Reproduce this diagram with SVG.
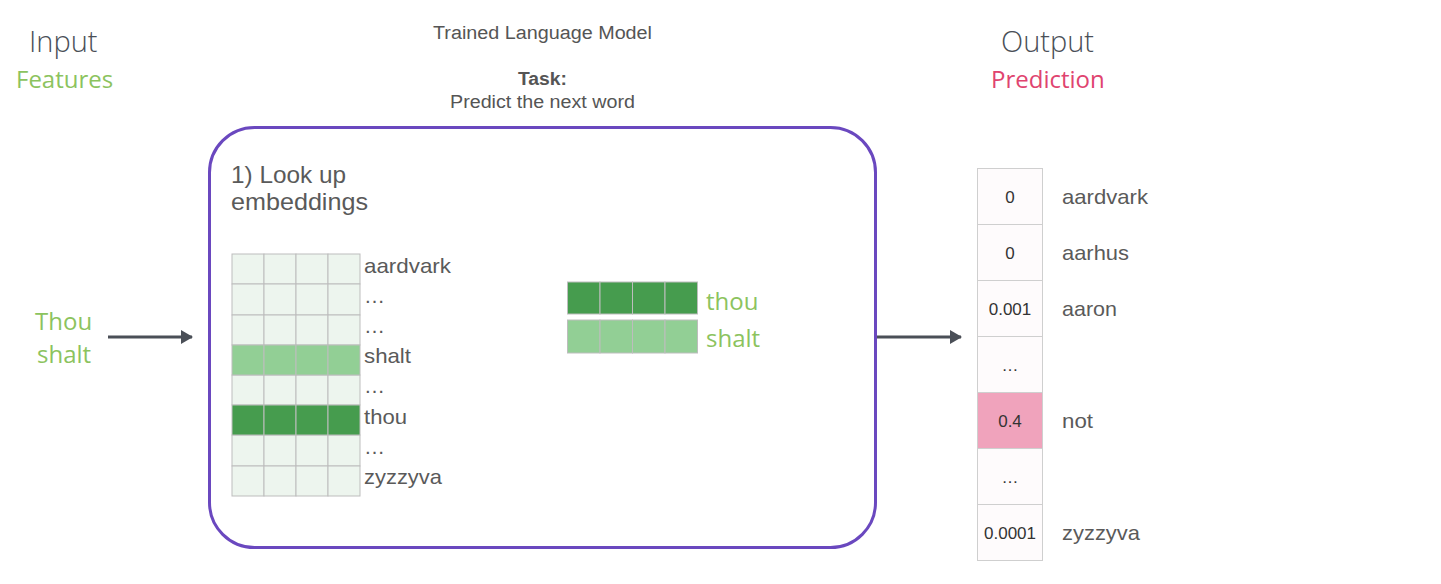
<svg xmlns="http://www.w3.org/2000/svg" width="1441" height="584" viewBox="0 0 1441 584">
<defs>
<style>
.hd{font-family:"Open Sans","Noto Sans",sans-serif;font-size:29px;fill:#4a4f57;font-weight:300}
.gr{font-family:"Open Sans","Noto Sans",sans-serif;font-size:24px;fill:#8cc35e}
.pk{font-family:"Open Sans","Noto Sans",sans-serif;font-size:24px;fill:#e0446f}
.t{font-family:"Liberation Sans",Arial,sans-serif;font-size:18px;fill:#555}
.lb{font-family:"Liberation Sans",Arial,sans-serif;font-size:21px;fill:#5a5a5a}
.st{font-family:"Liberation Sans",Arial,sans-serif;font-size:24px;fill:#5a5a5a}
.v{font-family:"Liberation Sans",Arial,sans-serif;font-size:17px;fill:#333;text-anchor:middle}
.c0{fill:#edf5ee;stroke:#bdbdbd;stroke-width:1}
.c1{fill:#92cf95;stroke:#bdbdbd;stroke-width:1}
.c2{fill:#469c4e;stroke:#bdbdbd;stroke-width:1}
.o{fill:#fefbfc;stroke:#cfcfcf;stroke-width:1}
.op{fill:#f0a3bc;stroke:#cfcfcf;stroke-width:1}
.ar{stroke:#4a4f57;stroke-width:3;fill:none;marker-end:url(#ah)}
</style>
<marker id="ah" markerWidth="12" markerHeight="14" refX="11" refY="7" orient="auto" markerUnits="userSpaceOnUse" viewBox="0 0 12 14">
<path d="M0,0 L12,7 L0,14 z" fill="#4a4f57"/>
</marker>
</defs>
<rect width="1441" height="584" fill="#fff"/>

<g id="input-header">
<text class="hd" x="29" y="52">Input</text>
<text class="gr" x="16" y="88">Features</text>
</g>
<g id="output-header">
<text class="hd" x="1001" y="52">Output</text>
<text class="pk" x="991" y="88">Prediction</text>
</g>
<g id="title">
<text class="t" x="433" y="39" textLength="219" lengthAdjust="spacingAndGlyphs">Trained Language Model</text>
<text class="t" x="518" y="85" font-weight="bold" textLength="49" lengthAdjust="spacingAndGlyphs">Task:</text>
<text class="t" x="450" y="108" textLength="185" lengthAdjust="spacingAndGlyphs">Predict the next word</text>
</g>

<g id="input-words">
<text class="gr" x="35" y="330">Thou</text>
<text class="gr" x="37" y="363">shalt</text>
</g>

<g id="model">
<rect x="209.5" y="127.5" width="666" height="420" rx="45" ry="45" fill="none" stroke="#6a48bf" stroke-width="3"/>
<text class="st" x="231" y="183" textLength="115" lengthAdjust="spacingAndGlyphs">1) Look up</text>
<text class="st" x="231" y="210" textLength="137" lengthAdjust="spacingAndGlyphs">embeddings</text>
</g>

<g id="embedding-matrix">
<g class="c0">
<rect x="232" y="254" width="32" height="30"/><rect x="264" y="254" width="32" height="30"/><rect x="296" y="254" width="32" height="30"/><rect x="328" y="254" width="32" height="30"/>
<rect x="232" y="284" width="32" height="31"/><rect x="264" y="284" width="32" height="31"/><rect x="296" y="284" width="32" height="31"/><rect x="328" y="284" width="32" height="31"/>
<rect x="232" y="315" width="32" height="30"/><rect x="264" y="315" width="32" height="30"/><rect x="296" y="315" width="32" height="30"/><rect x="328" y="315" width="32" height="30"/>
<rect x="232" y="375" width="32" height="30"/><rect x="264" y="375" width="32" height="30"/><rect x="296" y="375" width="32" height="30"/><rect x="328" y="375" width="32" height="30"/>
<rect x="232" y="435" width="32" height="31"/><rect x="264" y="435" width="32" height="31"/><rect x="296" y="435" width="32" height="31"/><rect x="328" y="435" width="32" height="31"/>
<rect x="232" y="466" width="32" height="30"/><rect x="264" y="466" width="32" height="30"/><rect x="296" y="466" width="32" height="30"/><rect x="328" y="466" width="32" height="30"/>
</g>
<g class="c1">
<rect x="232" y="345" width="32" height="30"/><rect x="264" y="345" width="32" height="30"/><rect x="296" y="345" width="32" height="30"/><rect x="328" y="345" width="32" height="30"/>
</g>
<g class="c2">
<rect x="232" y="405" width="32" height="30"/><rect x="264" y="405" width="32" height="30"/><rect x="296" y="405" width="32" height="30"/><rect x="328" y="405" width="32" height="30"/>
</g>
<text class="lb" x="364" y="273" textLength="87" lengthAdjust="spacingAndGlyphs">aardvark</text>
<text class="lb" x="364" y="303" fill="#888">…</text>
<text class="lb" x="364" y="333" fill="#888">…</text>
<text class="lb" x="364" y="363" textLength="47" lengthAdjust="spacingAndGlyphs">shalt</text>
<text class="lb" x="364" y="393" fill="#888">…</text>
<text class="lb" x="364" y="424" textLength="43" lengthAdjust="spacingAndGlyphs">thou</text>
<text class="lb" x="364" y="454" fill="#888">…</text>
<text class="lb" x="364" y="484" textLength="78" lengthAdjust="spacingAndGlyphs">zyzzyva</text>
</g>

<g id="looked-up">
<g class="c2">
<rect x="567.5" y="282" width="32.5" height="32"/><rect x="600" y="282" width="32.5" height="32"/><rect x="632.5" y="282" width="32.5" height="32"/><rect x="665" y="282" width="32.5" height="32"/>
</g>
<g class="c1">
<rect x="567.5" y="320" width="32.5" height="33"/><rect x="600" y="320" width="32.5" height="33"/><rect x="632.5" y="320" width="32.5" height="33"/><rect x="665" y="320" width="32.5" height="33"/>
</g>
<text class="gr" x="706" y="310">thou</text>
<text class="gr" x="706" y="347">shalt</text>
</g>

<g id="output-table">
<rect class="o" x="977.5" y="168.5" width="65" height="56"/>
<rect class="o" x="977.5" y="224.5" width="65" height="56"/>
<rect class="o" x="977.5" y="280.5" width="65" height="56"/>
<rect class="o" x="977.5" y="336.5" width="65" height="56"/>
<rect class="op" x="977.5" y="392.5" width="65" height="56"/>
<rect class="o" x="977.5" y="448.5" width="65" height="56"/>
<rect class="o" x="977.5" y="504.5" width="65" height="56"/>
<text class="v" x="1010" y="203">0</text>
<text class="v" x="1010" y="259">0</text>
<text class="v" x="1010" y="315">0.001</text>
<text class="v" x="1010" y="371" fill="#888">…</text>
<text class="v" x="1010" y="427">0.4</text>
<text class="v" x="1010" y="483" fill="#888">…</text>
<text class="v" x="1010" y="539">0.0001</text>
<text class="lb" x="1062" y="204" textLength="86" lengthAdjust="spacingAndGlyphs">aardvark</text>
<text class="lb" x="1062" y="260" textLength="67" lengthAdjust="spacingAndGlyphs">aarhus</text>
<text class="lb" x="1062" y="316" textLength="55" lengthAdjust="spacingAndGlyphs">aaron</text>
<text class="lb" x="1062" y="428" textLength="31" lengthAdjust="spacingAndGlyphs">not</text>
<text class="lb" x="1062" y="540" textLength="78" lengthAdjust="spacingAndGlyphs">zyzzyva</text>
</g>

<g id="connectors">
<line class="ar" x1="108" y1="337" x2="192" y2="337"/>
<line class="ar" x1="877" y1="337" x2="961" y2="337"/>
</g>
</svg>
